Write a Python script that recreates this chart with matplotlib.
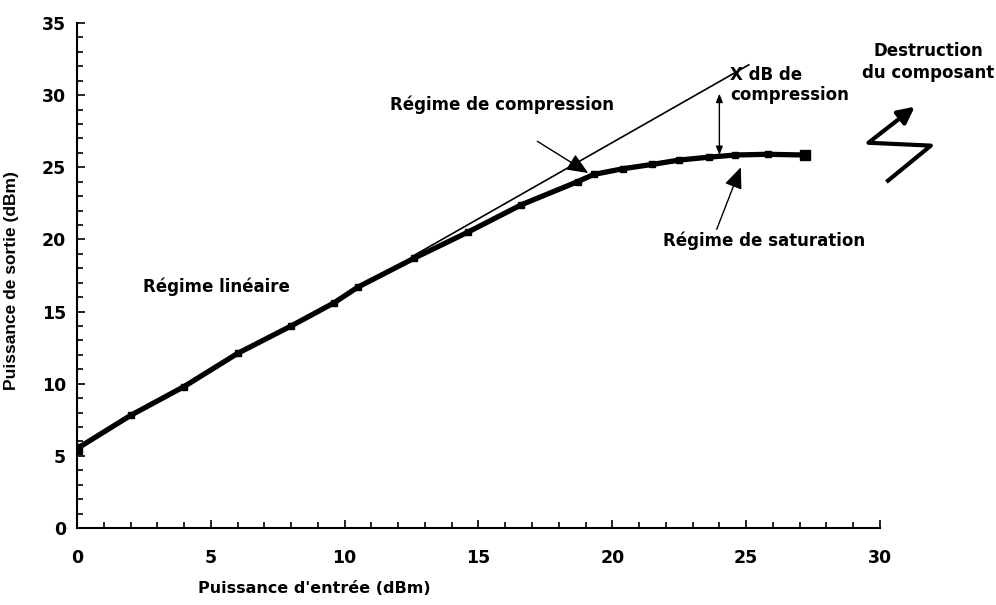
import matplotlib
matplotlib.use("Agg")
import matplotlib.pyplot as plt
from matplotlib.ticker import MultipleLocator

plt.rcParams['font.family'] = ['DejaVu Sans']
plt.rcParams['font.weight'] = 'bold'

# courbe mesurée : puissance d'entrée / puissance de sortie (dBm)
pin = [0, 2, 4, 6, 8, 9.6, 10.5, 12.6, 14.6, 16.6, 18.7, 19.3, 20.4,
       21.5, 22.5, 23.6, 24.6, 25.8, 27.2]
pout = [5.5, 7.8, 9.8, 12.1, 14.0, 15.6, 16.7, 18.7, 20.5, 22.4, 24.0,
        24.5, 24.9, 25.2, 25.5, 25.7, 25.85, 25.9, 25.85]

# droite du régime linéaire (extrapolée)
tangent_x = [12.6, 25.1]
tangent_y = [18.9, 32.1]

# éclair "destruction du composant"
bolt_x = [30.24, 31.9, 29.57, 31.3]
bolt_y = [23.98, 26.5, 26.7, 29.2]

xticks = [0, 5, 10, 15, 20, 25, 30]
yticks = [0, 5, 10, 15, 20, 25, 30, 35]

fig = plt.figure(figsize=(9.96, 6.05), dpi=100)
ax = fig.add_axes([0.0773, 0.1273, 0.8062, 0.8347])

ax.plot(tangent_x, tangent_y, color='black', lw=1.2)
ax.plot(pin, pout, color='black', lw=3.8, marker='s', ms=4.5)
ax.plot([pin[0], pin[-1]], [pout[0], pout[-1]], ls='none', color='black',
        marker='s', ms=7.5)

ax.set_xlim(0, 30)
ax.set_ylim(0, 35)
ax.set_xticks(xticks)
ax.set_yticks(yticks)
ax.xaxis.set_minor_locator(MultipleLocator(1))
ax.yaxis.set_minor_locator(MultipleLocator(1))
ax.tick_params(which='both', direction='in', width=1.2)
ax.tick_params(which='major', length=6)
ax.tick_params(which='minor', length=4)
ax.tick_params(axis='x', which='major', pad=15, labelsize=12.5)
ax.tick_params(axis='y', which='major', pad=8, labelsize=12.5)
for s in ['top', 'right']:
    ax.spines[s].set_visible(False)
for s in ['left', 'bottom']:
    ax.spines[s].set_linewidth(1.5)

ax.set_xlabel("Puissance d'entrée (dBm)", fontsize=11.5, fontweight='bold')
ax.xaxis.set_label_coords(0.295, -0.105)
ax.set_ylabel("Puissance de sortie (dBm)", fontsize=12.5, fontweight='bold',
              family='Liberation Sans')
ax.yaxis.set_label_coords(-0.072, 0.49)

tk = dict(fontsize=12, fontweight='bold')
big_head = '-|>,head_length=1.3,head_width=0.55'
ax.text(5.2, 16.7, "Régime linéaire", ha='center', va='center', **tk)
ax.text(11.7, 29.3, "Régime de compression", ha='left', va='center', **tk)
ax.annotate("", xy=(19.1, 24.6), xytext=(17.2, 26.8),
            arrowprops=dict(arrowstyle=big_head, color='black', lw=1,
                            shrinkA=0, shrinkB=0))
ax.text(21.9, 19.9, "Régime de saturation", ha='left', va='center', **tk)
ax.annotate("", xy=(24.8, 25.0), xytext=(23.9, 20.7),
            arrowprops=dict(arrowstyle=big_head, color='black', lw=1,
                            shrinkA=0, shrinkB=0))
ax.annotate("", xy=(24.0, 30.1), xytext=(24.0, 25.85),
            arrowprops=dict(arrowstyle='<|-|>,head_length=0.5,head_width=0.2',
                            color='black', lw=1, shrinkA=0, shrinkB=0))
ax.text(24.4, 30.7, "X dB de\ncompression", ha='left', va='center',
        linespacing=1.2, **tk)
ax.text(31.8, 32.3, "Destruction\ndu composant", ha='center', va='center',
        linespacing=1.3, clip_on=False, **tk)

ax.plot(bolt_x[:3], bolt_y[:3], color='black', lw=3, clip_on=False,
        solid_capstyle='butt')
ax.annotate("", xy=(bolt_x[3], bolt_y[3]), xytext=(bolt_x[2], bolt_y[2]),
            annotation_clip=False,
            arrowprops=dict(arrowstyle='-|>,head_length=1.0,head_width=0.5',
                            color='black', lw=3, shrinkA=0, shrinkB=0))

fig.savefig("out.png", dpi=100)
